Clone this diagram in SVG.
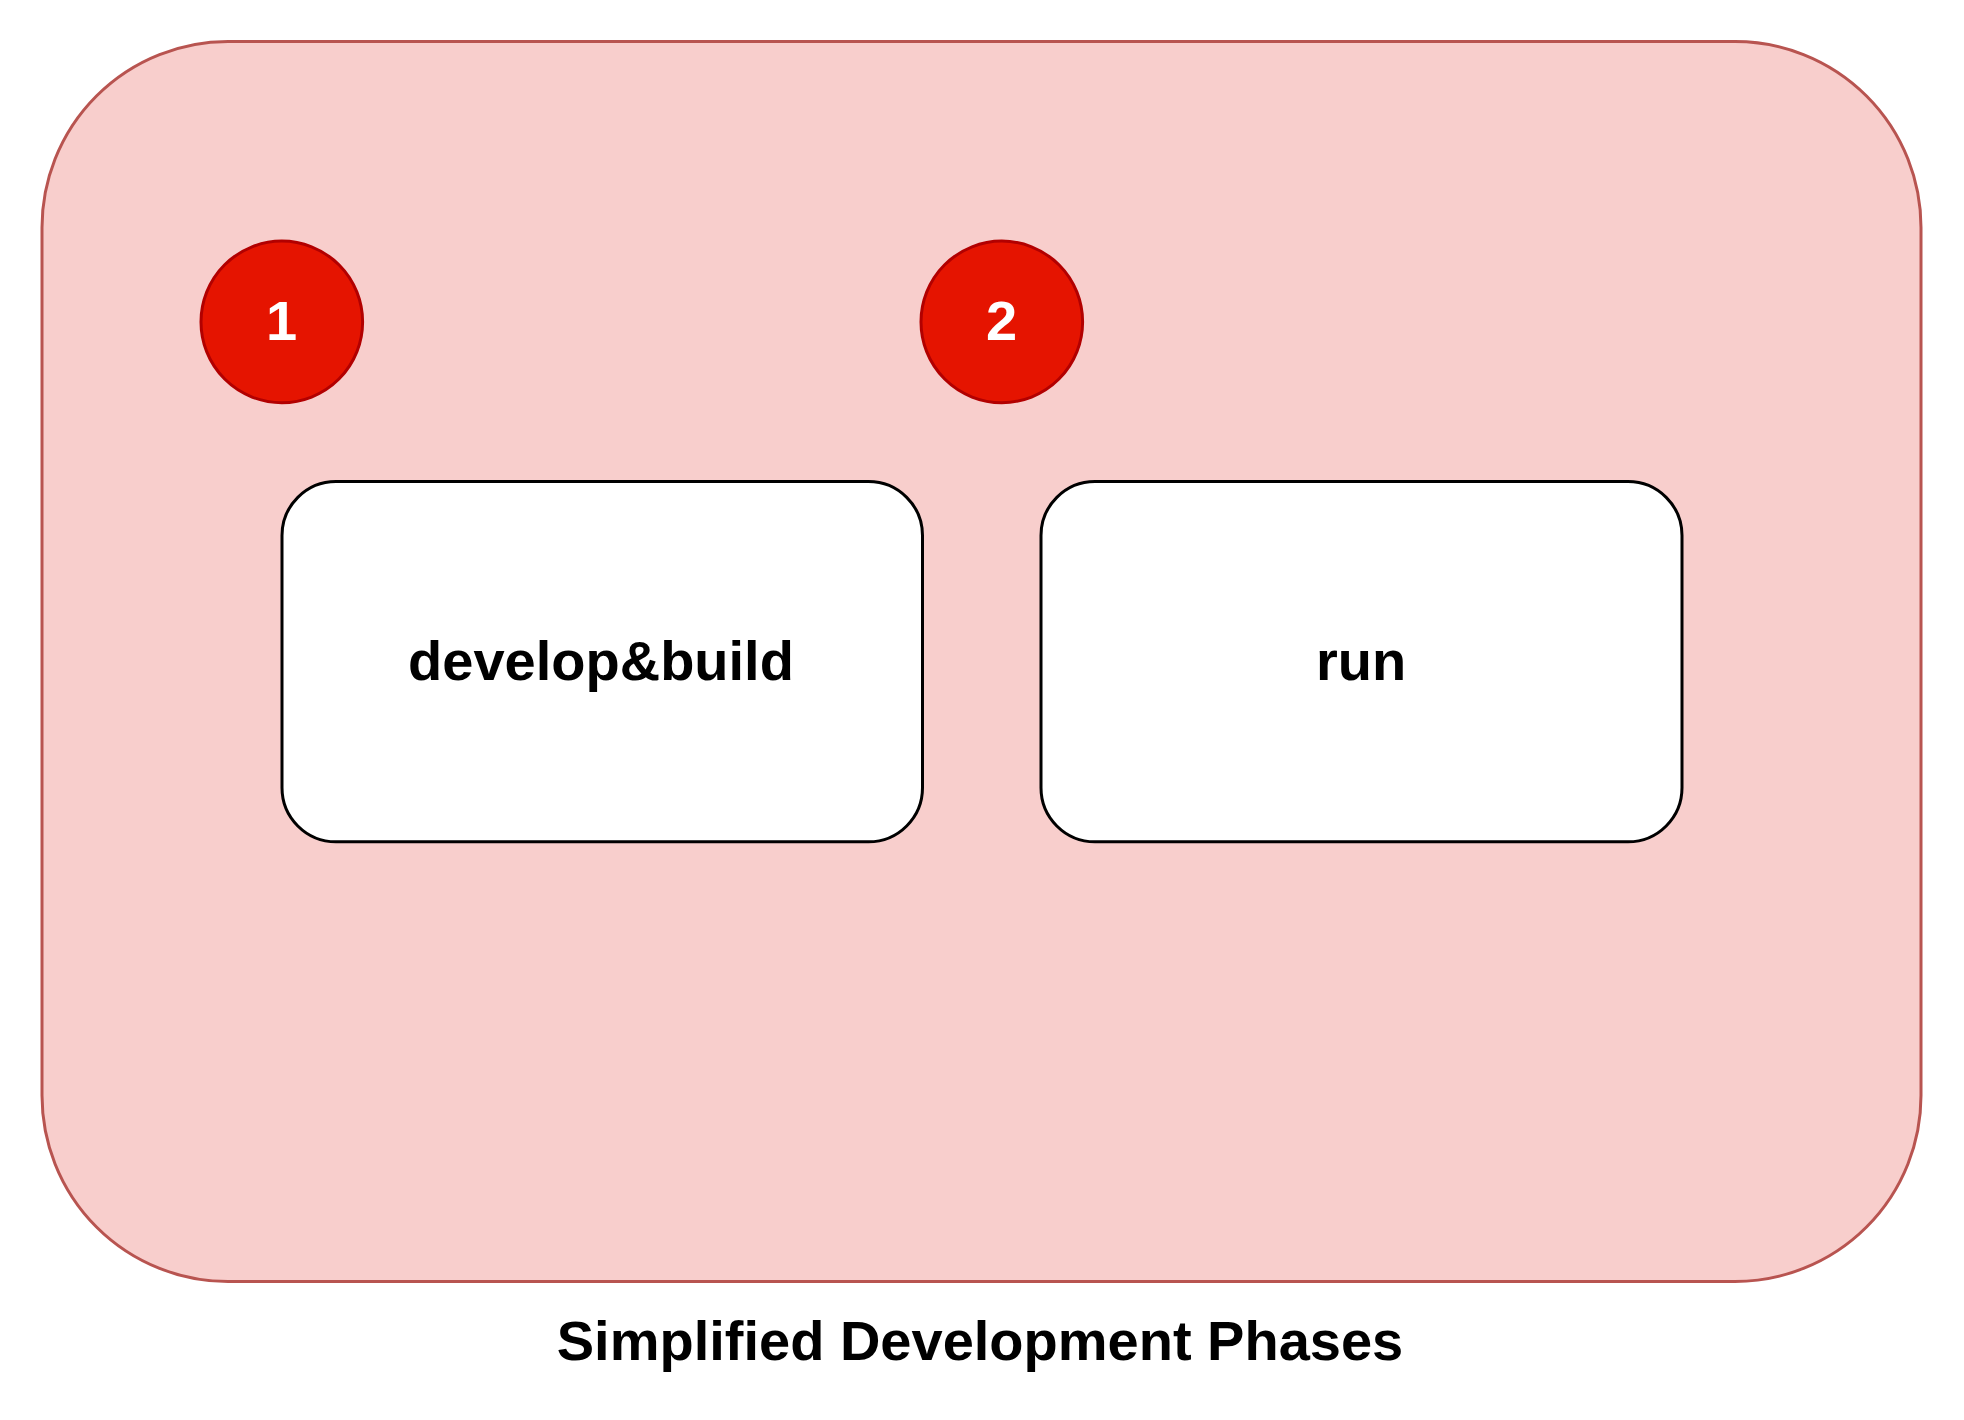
<svg xmlns="http://www.w3.org/2000/svg" width="1964" height="1420" viewBox="0 0 1964 1420">
<style>
.container{fill:#f8cecc;stroke:#b85450;stroke-width:3}
.badge{fill:#e51400;stroke:#b20000;stroke-width:3}
.box{fill:#ffffff;stroke:#000000;stroke-width:3}
.lbl{font-family:"Liberation Sans",Arial,Helvetica,sans-serif;font-weight:bold;text-anchor:middle}
.badge-text{fill:#ffffff;font-size:56px}
.box-text{fill:#000000;font-size:56px}
.title{fill:#000000;font-size:56px}
</style>
<rect width="1964" height="1420" fill="#ffffff"/>
<g id="container">
<rect class="container" x="42" y="41.5" width="1879" height="1240" rx="186" ry="186"/>
</g>
<g id="connectors"></g>
<g id="badge1">
<circle class="badge" cx="281.8" cy="321.9" r="80.8"/>
<text class="lbl badge-text" x="281.5" y="340">1</text>
</g>
<g id="badge2">
<circle class="badge" cx="1001.8" cy="321.9" r="80.8"/>
<text class="lbl badge-text" x="1001.5" y="340">2</text>
</g>
<g id="develop-build">
<rect class="box" x="282" y="481.5" width="640.5" height="360.3" rx="54" ry="54"/>
<text class="lbl box-text" x="601" y="680">develop&amp;build</text>
</g>
<g id="run">
<rect class="box" x="1041" y="481.5" width="641" height="360.3" rx="54" ry="54"/>
<text class="lbl box-text" x="1361" y="680">run</text>
</g>
<g id="title">
<text class="lbl title" x="980" y="1360">Simplified Development Phases</text>
</g>
</svg>
